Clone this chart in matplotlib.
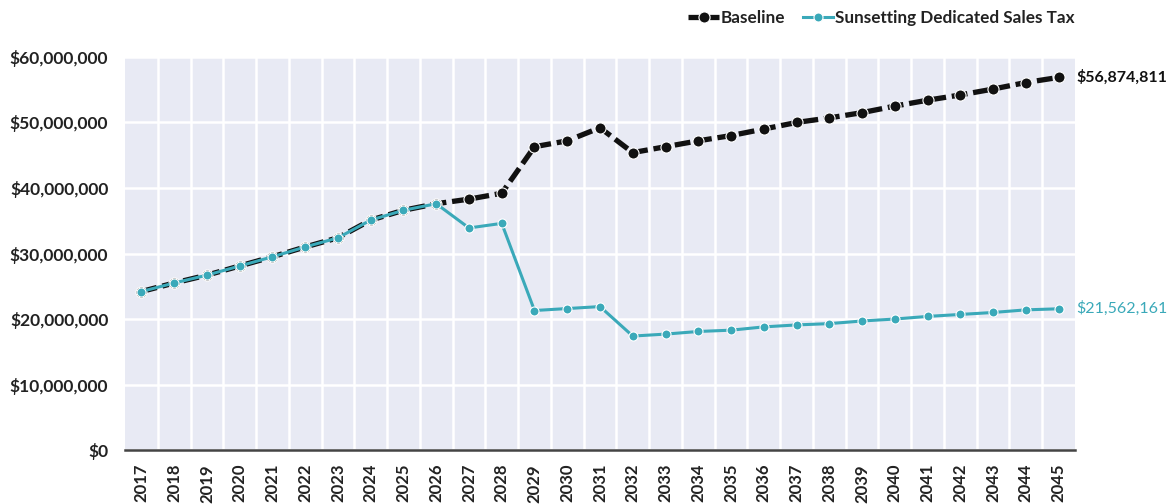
import matplotlib
matplotlib.use("Agg")
import matplotlib.pyplot as plt
from matplotlib.ticker import FuncFormatter, MultipleLocator

years = list(range(2017, 2046))
baseline = [24.2, 25.5, 26.7, 28.1, 29.5, 31.0, 32.4, 35.1, 36.6, 37.6,
            38.3, 39.2, 46.3, 47.2, 49.2, 45.4, 46.3, 47.2, 48.0, 49.0,
            50.0, 50.7, 51.5, 52.5, 53.4, 54.2, 55.1, 56.1, 56.874811]
sunset = [24.2, 25.5, 26.7, 28.1, 29.5, 31.0, 32.4, 35.1, 36.6, 37.6,
          33.9, 34.6, 21.3, 21.6, 21.9, 17.4, 17.7, 18.1, 18.3, 18.8,
          19.1, 19.3, 19.7, 20.0, 20.4, 20.7, 21.0, 21.4, 21.562161]
baseline = [v * 1e6 for v in baseline]
sunset = [v * 1e6 for v in sunset]
series_names = ["Baseline", "Sunsetting Dedicated Sales Tax"]
end_labels = ["$56,874,811", "$21,562,161"]

black = "#111111"
teal = "#3aa9b9"
bg = "#e8eaf4"

plt.rcParams['font.family'] = ['Lato', 'DejaVu Sans']

fig = plt.figure(figsize=(11.72, 5.04), dpi=100)
ax = fig.add_axes([0.1067, 0.107, 0.8105, 0.78])
ax.set_facecolor(bg)

x = list(range(len(years)))
ax.plot(x, baseline, color=black, lw=3.8, ls=(0, (3, 1.1)),
        marker='o', ms=8, mfc=black, mec='white', mew=0.8,
        label=series_names[0], zorder=3, dash_capstyle='butt')
ax.plot(x, sunset, color=teal, lw=2.2,
        marker='o', ms=6.5, mfc=teal, mec='white', mew=0.8,
        label=series_names[1], zorder=4)

ax.set_xlim(-0.5, len(years) - 0.5)
ax.set_ylim(0, 60e6)
ax.yaxis.set_major_locator(MultipleLocator(10e6))
ax.yaxis.set_major_formatter(FuncFormatter(lambda v, p: "${:,.0f}".format(v)))
ax.set_xticks(x)
ax.set_xticklabels([str(y) for y in years], rotation=90, fontsize=12,
                   fontweight='bold', color='#222222')
for t in ax.get_yticklabels():
    t.set_fontsize(12.5)
    t.set_fontweight('bold')
    t.set_color('#222222')
ax.tick_params(axis='y', length=0, pad=12)
ax.tick_params(axis='x', length=0, pad=10)

# grid: white lines at category boundaries and y ticks
ax.set_xticks([i + 0.5 for i in range(len(years) - 1)], minor=True)
ax.tick_params(axis='x', which='minor', length=0)
ax.grid(which='minor', axis='x', color='white', lw=1.8, zorder=0)
ax.grid(which='major', axis='y', color='white', lw=1.8, zorder=0)
ax.set_axisbelow(True)

for s in ['top', 'right', 'left']:
    ax.spines[s].set_visible(False)
ax.spines['bottom'].set_color('#444444')
ax.spines['bottom'].set_linewidth(1.8)

ax.annotate(end_labels[0], xy=(x[-1], baseline[-1]), xytext=(13, 0),
            textcoords='offset points', va='center', ha='left',
            fontsize=11.5, fontweight='bold', color=black, annotation_clip=False)
ax.annotate(end_labels[1], xy=(x[-1], sunset[-1]), xytext=(13, 0),
            textcoords='offset points', va='center', ha='left',
            fontsize=11.5, color=teal, annotation_clip=False)

leg = fig.legend(loc='upper right', bbox_to_anchor=(0.93, 1.01), ncol=2,
                 frameon=False, fontsize=12.3, handlelength=1.8,
                 handletextpad=0.1, columnspacing=1.0)
for t in leg.get_texts():
    t.set_fontweight('bold')
    t.set_color('#222222')

fig.savefig("out.png", dpi=100)
